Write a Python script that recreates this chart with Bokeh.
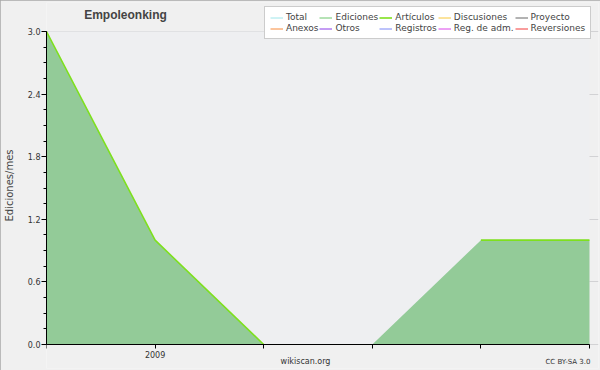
from bokeh.plotting import figure
from bokeh.models import (ColumnDataSource, FixedTicker, Legend, LegendItem, Label,
                          Range1d, NumeralTickFormatter, BoxAnnotation)
from bokeh.embed import file_html
from bokeh.resources import INLINE

# ---- data ----
months = ["2008-12", "2009-01", "2009-02", "2009-03", "2009-04", "2009-05"]
month_labels = ["", "2009", "", "", "", ""]
ediciones = [3.0, 1.0, 0.0, 0.0, 1.0, 1.0]
articulos = [3.0, 1.0, 0.0, None, 1.0, 1.0]
y_ticks = [0.0, 0.6, 1.2, 1.8, 2.4, 3.0]
series_names = ["Total", "Ediciones", "Artículos", "Discusiones", "Proyecto",
                "Anexos", "Otros", "Registros", "Reg. de adm.", "Reversiones"]
series_colors = ["#9ee6ea", "#6cc66c", "#c6ec2c", "#f8c83a", "#666666",
                 "#f88a3a", "#8a3ae8", "#7a86f6", "#da44ea", "#f23a3a"]
title_text = "Empoleonking"
y_label = "Ediciones/mes"
source_text = "wikiscan.org"
license_text = "CC BY-SA 3.0"

FONT = "DejaVu Sans"
xs = list(range(len(months)))
Y_MAX = y_ticks[-1]

p = figure(width=600, height=370, output_backend="svg", toolbar_location=None,
           x_range=Range1d(xs[0], xs[-1] + 0.083), y_range=Range1d(-0.230, 3.278),
           min_border_left=46, min_border_right=2, min_border_top=2,
           min_border_bottom=2)
p.background_fill_color = "#f0f0f0"
p.border_fill_color = "#f0f0f0"
p.outline_line_color = None
p.styles = {"outline": "1px solid #a8a8a8", "outline-offset": "-1px"}

p.add_layout(BoxAnnotation(left=xs[0], right=xs[-1], bottom=0, top=Y_MAX,
                           fill_color="#eeeff1", fill_alpha=1.0, line_color=None,
                           level="underlay"))

src = ColumnDataSource(dict(x=xs, ed=ediciones,
                            ar=[float("nan") if v is None else v for v in articulos],
                            zero=[0] * len(xs)))
p.varea(x="x", y1="zero", y2="ed", source=src, fill_color="#56b35d", fill_alpha=0.6)
nan_src = ColumnDataSource(dict(x=[xs[0]], y=[float("nan")]))
renderers = {}
for name, col in zip(series_names, series_colors):
    if name == "Artículos":
        r = p.line(x="x", y="ar", source=src, line_color="#7ee01e", line_width=1.6)
    else:
        r = p.line(x="x", y="y", source=nan_src, line_color=col, line_width=1)
    renderers[name] = r

order = []
for c in range(5):
    order += [series_names[c], series_names[c + 5]]
items = [LegendItem(label=n, renderers=[renderers[n]]) for n in order]
legend = Legend(items=items, ncols=5, location=(218, 329),
                label_text_font=FONT, label_text_font_size="9px",
                label_height=9, glyph_height=9, glyph_width=13,
                label_standoff=3, spacing=1, padding=5, margin=0,
                border_line_color="#999999", background_fill_color="white",
                background_fill_alpha=1.0)
p.add_layout(legend, "center")

p.xaxis.fixed_location = 0
p.xaxis.bounds = (xs[0], xs[-1])
p.xaxis.ticker = FixedTicker(ticks=xs)
p.xaxis.major_label_overrides = {i: lab for i, lab in zip(xs, month_labels)}
p.xaxis.minor_tick_line_color = None
p.xaxis.major_tick_in = 0
p.xaxis.major_tick_out = 4
p.xaxis.axis_line_color = "black"
p.xaxis.major_tick_line_color = "black"
p.xaxis.major_label_text_font = FONT
p.xaxis.major_label_text_font_size = "8px"
p.xaxis.major_label_text_color = "#333333"
p.xaxis.major_label_standoff = 2
p.xgrid.grid_line_color = None

minor = [round(i * 0.15, 2) for i in range(21)]
p.yaxis.bounds = (0, Y_MAX)
p.yaxis.ticker = FixedTicker(ticks=y_ticks, minor_ticks=minor)
p.yaxis.formatter = NumeralTickFormatter(format="0.0")
p.yaxis.major_tick_in = 0
p.yaxis.major_tick_out = 5
p.yaxis.minor_tick_in = 0
p.yaxis.minor_tick_out = 3
p.yaxis.axis_line_color = "black"
p.yaxis.major_tick_line_color = "black"
p.yaxis.minor_tick_line_color = "black"
p.yaxis.major_label_text_font = FONT
p.yaxis.major_label_text_font_size = "8px"
p.yaxis.major_label_text_color = "#333333"
p.yaxis.major_label_standoff = 1
p.yaxis.axis_label = y_label
p.yaxis.axis_label_text_font = FONT
p.yaxis.axis_label_text_font_size = "10px"
p.yaxis.axis_label_text_font_style = "normal"
p.yaxis.axis_label_standoff = 10
p.ygrid.grid_line_color = "#d2d2d4"
p.ygrid.grid_line_width = 1
p.ygrid.bounds = (xs[0], xs[-1])

p.add_layout(Label(x=79, y=354, x_units="screen", y_units="screen", text=title_text,
                   text_font="Liberation Sans", text_font_style="bold",
                   text_font_size="12px", text_align="center", text_baseline="middle"))
p.add_layout(Label(x=259, y=7, x_units="screen", y_units="screen", text=source_text,
                   text_font=FONT, text_font_size="8px", text_color="#333333",
                   text_align="center", text_baseline="middle"))
p.add_layout(Label(x=544, y=7, x_units="screen", y_units="screen", text=license_text,
                   text_font=FONT, text_font_size="7px", text_color="#333333",
                   text_align="right", text_baseline="middle"))

open("out.html", "w").write(file_html(p, INLINE))
